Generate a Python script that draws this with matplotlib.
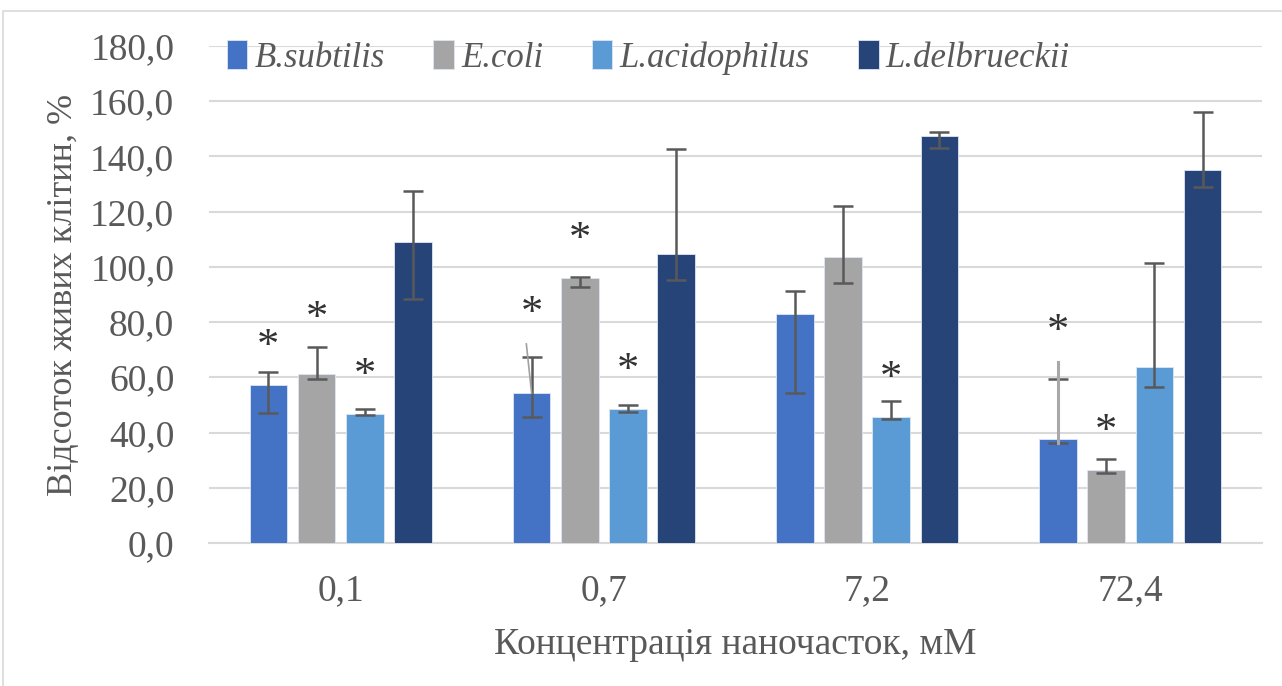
import matplotlib
matplotlib.use("Agg")
import matplotlib.pyplot as plt
from matplotlib.patches import Rectangle
import numpy as np

plt.rcParams['font.family'] = ['Liberation Serif', 'DejaVu Serif']

# концентрації
categories = ['0,1', '0,7', '7,2', '72,4']
series = ['B.subtilis', 'E.coli', 'L.acidophilus', 'L.delbrueckii']
colors = ['#4472C4', '#A5A5A5', '#5B9BD5', '#264478']

# відсоток живих клітин
values = [
    [57.3, 54.2, 83.1, 37.5],
    [61.3, 96.1, 103.7, 26.3],
    [46.6, 48.4, 45.5, 63.8],
    [108.9, 104.6, 147.5, 135.0],
]
# межі похибок (верх / низ)
err_hi = [
    [61.8, 67.5, 91.4, 59.3],
    [70.9, 96.5, 122.2, 30.4],
    [48.5, 49.9, 51.4, 101.4],
    [127.5, 142.7, 148.9, 156.2],
]
err_lo = [
    [47.1, 45.7, 54.4, 36.1],
    [59.4, 92.8, 94.2, 25.5],
    [46.4, 47.3, 44.9, 56.6],
    [88.3, 95.4, 143.1, 128.8],
]
# зірочки (None = немає)
stars = [
    [71.0, 82.8, None, 76.3],
    [81.0, 109.7, None, 40.3],
    [60.5, 62.4, 59.3, None],
    [None, None, None, None],
]
# залишкові лінії від Excel
extra_g2 = [72.1, 54.3]   # 0,7 B.subtilis, похила
extra_g4 = [36.1, 65.4]   # 72,4 B.subtilis, світла

fig = plt.figure(figsize=(12.82, 6.86), dpi=100)
fig.patches.append(Rectangle((3 / 1282, -0.05), 1.2, 1.05 - 11 / 686,
                             transform=fig.transFigure, fill=False,
                             edgecolor='#D9D9D9', linewidth=1.2))
ax = fig.add_axes([209 / 1282, 1 - 543 / 686, (1262 - 209) / 1282, (543 - 46) / 686])

x = np.arange(len(categories))
w = 0.143
step = 0.183
ecol = '#595959'

for i, s in enumerate(series):
    pos = x + (i - 1.5) * step
    v = np.array(values[i])
    ax.bar(pos, v, w, color=colors[i], label=s, zorder=3,
           edgecolor='#DDE6F2', linewidth=0.6)
    lo = v - np.array(err_lo[i])
    hi = np.array(err_hi[i]) - v
    ax.errorbar(pos, v, yerr=[lo, hi], fmt='none', ecolor=ecol,
                elinewidth=1.8, capsize=7, capthick=1.8, zorder=4)
    for j, sv in enumerate(stars[i]):
        if sv is not None:
            ax.text(pos[j], sv, '*', ha='center', va='center', fontsize=32,
                    color='#333333', zorder=5)

# похила лінія (0,7) і світла лінія (72,4)
p0 = x[1] - 1.5 * step
ax.plot([p0 - 0.02, p0], extra_g2, color='#A0A0A0', linewidth=1.2, zorder=4)
p3 = x[3] - 1.5 * step
ax.plot([p3, p3], extra_g4, color='#A8A8A8', linewidth=2.2, zorder=4.5)

ax.set_xlim(-0.5, 3.5)
ax.set_ylim(0, 180)
ax.set_yticks(np.arange(0, 181, 20))
ax.set_yticklabels([f'{t:.1f}'.replace('.', ',') for t in np.arange(0, 181, 20)])
ax.set_xticks(x)
ax.set_xticklabels(categories)
ax.grid(axis='y', color='#D9D9D9', linewidth=1.5, zorder=0)
for sp in ['top', 'right', 'left']:
    ax.spines[sp].set_visible(False)
ax.spines['bottom'].set_color('#D9D9D9')
ax.spines['bottom'].set_linewidth(1.5)
ax.tick_params(axis='both', length=0, labelsize=27, colors='#595959')
ax.tick_params(axis='y', pad=25)
ax.tick_params(axis='x', pad=22)

ax.set_ylabel('Відсоток живих клітин, %', fontsize=26, color='#595959', labelpad=7)
ax.set_xlabel('Концентрація наночасток, мМ', fontsize=27, color='#595959', labelpad=14)

leg = ax.legend(loc='upper left', bbox_to_anchor=(-0.013, 1.074), ncol=4, frameon=False,
                prop={'style': 'italic', 'size': 25}, handlelength=0.6, handleheight=0.9,
                handletextpad=0.2, columnspacing=1.4, labelcolor='#595959')

fig.savefig('out.png', dpi=100)
